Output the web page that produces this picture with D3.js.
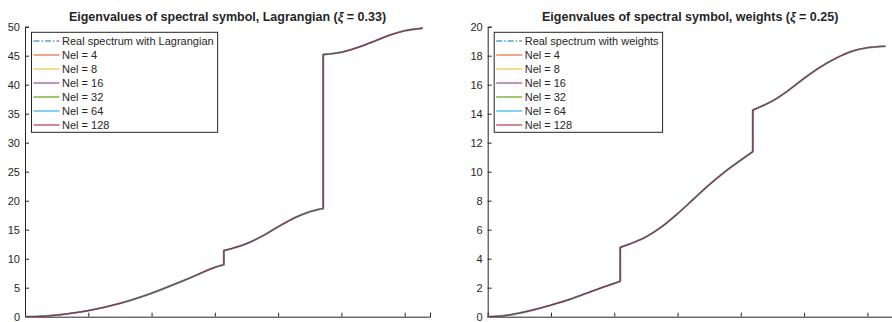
<!DOCTYPE html>
<head>
  <meta charset="utf-8">
  <script src="https://d3js.org/d3.v7.min.js"></script>
  <style>
    body { margin: 0; background: #fff; font-family: "Liberation Sans", Arial, sans-serif; }
    svg text { fill: #262626; }
  </style>
</head>
<body>
<div id="vis"></div>
<script>
// spectral symbol, Lagrangian basis: three branches on [0, 2pi]
const lagT1 = [0, 0.25, 0.5, 1, 1.5, 2, 2.5, 3, 3.1416];
const lagV1 = [0, 0.07, 0.28, 1.05, 2.3, 4.05, 6.2, 8.5, 8.95];
const lagT2 = [3.1416, 3.25, 3.5, 3.75, 4, 4.25, 4.5, 4.7124];
const lagV2 = [11.4, 11.7, 12.6, 13.9, 15.5, 17.0, 18.1, 18.65];
const lagT3 = [4.7124, 5, 5.25, 5.5, 5.75, 6, 6.2832];
const lagV3 = [45.2, 45.6, 46.4, 47.4, 48.5, 49.3, 49.75];

// spectral symbol, weights
const wT1 = [0, 0.25, 0.5, 0.75, 1, 1.25, 1.5, 1.75, 2, 2.0944];
const wV1 = [0, 0.06, 0.25, 0.5, 0.8, 1.13, 1.52, 1.92, 2.3, 2.45];
const wT2 = [2.0944, 2.25, 2.5, 2.75, 3, 3.25, 3.5, 3.75, 4, 4.1888];
const wV2 = [4.78, 5.02, 5.5, 6.2, 7.1, 8.1, 9.1, 10.0, 10.8, 11.38];
const wT3 = [4.1888, 4.5, 4.75, 5, 5.25, 5.5, 5.75, 6, 6.2832];
const wV3 = [14.25, 14.88, 15.6, 16.44, 17.2, 17.82, 18.3, 18.55, 18.65];

const nelLabels = ['Nel = 4', 'Nel = 8', 'Nel = 16', 'Nel = 32', 'Nel = 64', 'Nel = 128'];
const nelColours = ['#D95319', '#EDB120', '#7E2F8E', '#77AC30', '#4DBEEE', '#A2142F'];
const nelWidths = [1, 1, 1, 2, 2, 1.2];
const nelOpacity = [1, 1, 1, 0.7, 0.7, 0.85];

const width = 892, height = 322;

const svg = d3.select('#vis').append('svg')
  .attr('width', width)
  .attr('height', height);

function zip(ts, vs) {
  return ts.map((t, i) => ({ t: t, v: vs[i] }));
}

function drawPanel(cfg) {
  const x = d3.scaleLinear().domain([0, 6.4]).range([cfg.left, cfg.left + 405]);
  const y = d3.scaleLinear().domain([0, cfg.ymax]).range([316.7, 26.7]);
  const g = svg.append('g');

  const line = d3.line().x(d => x(d.t)).y(d => y(d.v)).curve(d3.curveCatmullRom.alpha(0.5));
  // join the branches with vertical jumps
  const pathStr = cfg.segments.map((s, i) => {
    const p = line(s);
    return i === 0 ? p : 'L' + p.slice(1);
  }).join('');

  // x axis
  const xa = g.append('g').attr('transform', `translate(0,${y(0)})`)
    .call(d3.axisBottom(x).tickValues([1, 2, 3, 4, 5, 6]).tickSize(-4).tickFormat(''));
  // y axis
  const ya = g.append('g').attr('transform', `translate(${x(0)},0)`)
    .call(d3.axisLeft(y).ticks(cfg.ymax / cfg.ystep).tickSize(-4).tickPadding(5));
  [xa, ya].forEach(a => {
    a.select('.domain').attr('stroke', '#262626').attr('stroke-width', 1);
    a.selectAll('.tick line').attr('stroke', '#262626');
    a.selectAll('text').style('font-size', '11px').attr('fill', '#262626');
  });

  // real spectrum, dash-dot
  g.append('path')
    .attr('d', pathStr)
    .attr('fill', 'none')
    .attr('stroke', '#0072BD')
    .attr('stroke-width', 1)
    .attr('stroke-dasharray', '6,2,1.5,2');

  nelLabels.forEach((lab, i) => {
    g.append('path')
      .attr('d', pathStr)
      .attr('fill', 'none')
      .attr('stroke', nelColours[i])
      .attr('stroke-width', nelWidths[i])
      .attr('stroke-opacity', nelOpacity[i])
      .attr('stroke-linejoin', 'round');
  });

  // title
  const title = g.append('text')
    .attr('x', (x(0) + x(6.4)) / 2)
    .attr('y', 21)
    .attr('text-anchor', 'middle')
    .style('font-size', '12.5px')
    .style('font-weight', 'bold');
  title.append('tspan').text(cfg.title + ' (');
  title.append('tspan').style('font-style', 'italic').text('ξ');
  title.append('tspan').text(' = ' + cfg.xi + ')');

  // legend
  const lx = cfg.left + 6.5, ly = 32.3;
  const leg = g.append('g');
  const box = leg.append('rect')
    .attr('x', lx).attr('y', ly)
    .attr('height', 100)
    .attr('fill', '#fff')
    .attr('stroke', '#262626')
    .attr('stroke-width', 1);
  const entries = [{ label: cfg.realLabel, colour: '#0072BD', w: 1, o: 1, dash: '6,2,1.5,2' }]
    .concat(nelLabels.map((l, i) => ({ label: l, colour: nelColours[i], w: nelWidths[i], o: nelOpacity[i], dash: null })));
  let maxW = 0;
  entries.forEach((e, i) => {
    const cy = ly + 8.7 + i * 14;
    leg.append('line')
      .attr('x1', lx + 2).attr('x2', lx + 28)
      .attr('y1', cy).attr('y2', cy)
      .attr('stroke', e.colour)
      .attr('stroke-width', e.w)
      .attr('stroke-opacity', e.o)
      .attr('stroke-dasharray', e.dash);
    const t = leg.append('text')
      .attr('x', lx + 30.5)
      .attr('y', cy)
      .attr('dy', '0.36em')
      .style('font-size', '11px')
      .text(e.label);
    maxW = Math.max(maxW, t.node().getComputedTextLength());
  });
  box.attr('width', 30.5 + maxW + 4);
}

drawPanel({
  left: 25,
  ymax: 50,
  ystep: 5,
  title: 'Eigenvalues of spectral symbol, Lagrangian',
  xi: '0.33',
  realLabel: 'Real spectrum with Lagrangian',
  segments: [zip(lagT1, lagV1), zip(lagT2, lagV2), zip(lagT3, lagV3)]
});

drawPanel({
  left: 487.7,
  ymax: 20,
  ystep: 2,
  title: 'Eigenvalues of spectral symbol, weights',
  xi: '0.25',
  realLabel: 'Real spectrum with weights',
  segments: [zip(wT1, wV1), zip(wT2, wV2), zip(wT3, wV3)]
});
</script>
</body>
